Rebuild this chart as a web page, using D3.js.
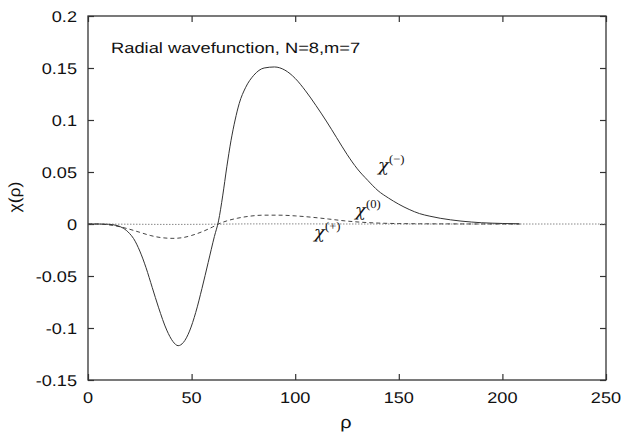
<!DOCTYPE html>
<html><head><meta charset="utf-8">
<script src="https://cdn.jsdelivr.net/npm/d3@7/dist/d3.min.js"></script>
<style>body{margin:0;background:#fff}svg{display:block}text{text-rendering:geometricPrecision}</style>
</head><body>
<svg id="c" width="633" height="444"></svg>
<script>
// ---- data ----
const rhoMinus = [0,5,10,14,17,20,22,25,28,31,34,38,41,43.5,46,49,52,55,58,61,63,65,67,69,71,73,76,80,85,90,95,100,105,110,115,120,125,130,135,140,145,150,155,160,165,170,175,180,185,190,195,200,208];
const chiMinus = [0,0,-0.0003,-0.0015,-0.004,-0.009,-0.014,-0.026,-0.042,-0.061,-0.080,-0.102,-0.113,-0.117,-0.114,-0.103,-0.085,-0.062,-0.037,-0.012,0.003,0.027,0.055,0.080,0.100,0.116,0.131,0.143,0.150,0.151,0.148,0.140,0.128,0.114,0.099,0.083,0.067,0.053,0.042,0.032,0.025,0.019,0.014,0.010,0.0075,0.0055,0.004,0.0028,0.0019,0.0012,0.0008,0.0005,0.0002];
const rhoZero = [0,5,10,15,20,25,30,35,41,46,50,55,60,63,67,72,78,85,92,100,108,116,124,132,140,150,160,175,190,210];
const chiZero = [0,0,-0.0008,-0.0025,-0.005,-0.008,-0.011,-0.013,-0.0138,-0.013,-0.011,-0.0075,-0.003,0,0.003,0.0055,0.0075,0.0085,0.0085,0.0078,0.0065,0.0048,0.003,0.0017,0.0009,0.0004,0.0002,0.0001,0,0];
const rhoPlus = [0,20,40,60,80,100,130,160,200,250];
const chiPlus = [0,-0.0002,-0.0004,-0.0002,0.0001,0.0001,0,0,0,0];
const xTicks = [0,50,100,150,200,250];
const yTicks = [-0.15,-0.1,-0.05,0,0.05,0.1,0.15,0.2];
const yTickLabels = ["-0.15","-0.1","-0.05","0","0.05","0.1","0.15","0.2"];
const titleText = "Radial wavefunction, N=8,m=7";

// ---- layout ----
const svg = d3.select("#c");
const L = 88, R = 606, T = 16, B = 380;
const x = d3.scaleLinear().domain([0,250]).range([L,R]);
const y = d3.scaleLinear().domain([-0.15,0.2]).range([B,T]);
const ink = "#333";
const SX = 1.17;

function stretchText(g, tx, ty, txt, anchor, size, sx, fam){
  return g.append("text").attr("transform",`translate(${tx},${ty}) scale(${sx||SX},1)`)
    .attr("text-anchor",anchor).attr("font-size",size)
    .attr("font-family",fam||"'Liberation Sans', Arial, sans-serif")
    .attr("fill","#111").text(txt);
}

// axes with inward ticks, mirrored
const gx = svg.append("g").attr("transform",`translate(0,${B})`)
  .call(d3.axisBottom(x).tickValues(xTicks).tickSize(-6).tickFormat(""));
const gx2 = svg.append("g").attr("transform",`translate(0,${T})`)
  .call(d3.axisTop(x).tickValues(xTicks).tickSize(-6).tickFormat(""));
const gy = svg.append("g").attr("transform",`translate(${L},0)`)
  .call(d3.axisLeft(y).tickValues(yTicks).tickSize(-6).tickFormat(""));
const gy2 = svg.append("g").attr("transform",`translate(${R},0)`)
  .call(d3.axisRight(y).tickValues(yTicks).tickSize(-6).tickFormat(""));
[gx,gx2,gy,gy2].forEach(g=>{
  g.select(".domain").remove();
  g.selectAll("line").attr("stroke",ink).attr("stroke-width",1.2);
});
svg.append("rect").attr("x",L).attr("y",T).attr("width",R-L).attr("height",B-T)
  .attr("fill","none").attr("stroke",ink).attr("stroke-width",1.3);

// tick labels
const lab = svg.append("g");
xTicks.forEach(v=>stretchText(lab, x(v), 403, String(v), "middle", 15.5));
yTicks.forEach((v,i)=>stretchText(lab, 77, y(v)+5.5, yTickLabels[i], "end", 15.5));

// axis titles
stretchText(svg, 346, 428, "ρ", "middle", 17);
svg.append("text").attr("transform","translate(20,197) rotate(-90) scale(1.1,1)")
  .attr("text-anchor","middle").attr("font-size",16)
  .attr("font-family","'Liberation Sans', Arial, sans-serif").attr("fill","#111").text("χ(ρ)");

// title
stretchText(svg, 111, 53, titleText, "start", 15, 1.22);

// curves
const line = (xs, ys) => d3.line().curve(d3.curveMonotoneX)
  .x((d,i)=>x(xs[i])).y((d,i)=>y(ys[i]))(ys);
svg.append("path").attr("d",line(rhoPlus,chiPlus)).attr("fill","none")
  .attr("stroke","#888").attr("stroke-width",1).attr("stroke-dasharray","1.5,1.5");
svg.append("path").attr("d",line(rhoZero,chiZero)).attr("fill","none")
  .attr("stroke","#444").attr("stroke-width",1).attr("stroke-dasharray","4,3");
svg.append("path").attr("d",line(rhoMinus,chiMinus)).attr("fill","none")
  .attr("stroke","#333").attr("stroke-width",1);

// curve labels
const serif = "'DejaVu Serif','Liberation Serif',serif";
function chiLabel(px, py, sup){
  svg.append("text").attr("transform",`translate(${px},${py}) scale(1.05,1)`)
    .attr("font-family",serif).attr("font-style","italic").attr("font-size",17)
    .attr("fill","#111").text("χ");
  stretchText(svg, px+11, py-8, sup, "start", 12, 1.05, "'Liberation Serif',serif");
}
chiLabel(378, 171, "(−)");
chiLabel(355, 216, "(0)");
chiLabel(314, 238, "(+)");
</script>
</body></html>
